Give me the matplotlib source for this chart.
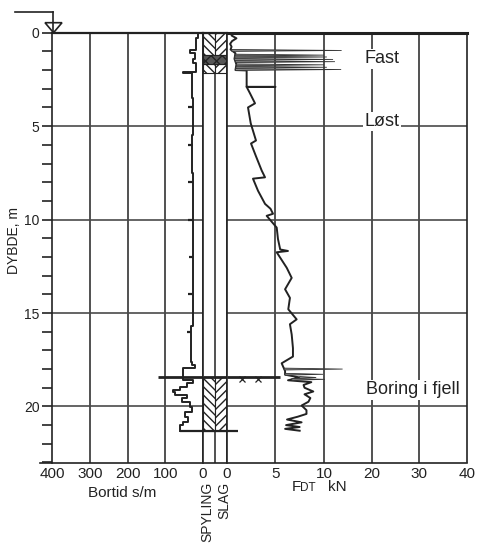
import matplotlib
matplotlib.use('Agg')
import matplotlib.pyplot as plt
import numpy as np
from matplotlib.patches import Rectangle, Polygon
from matplotlib.lines import Line2D

plt.rcParams['font.family'] = ['Liberation Sans', 'DejaVu Sans']

INK = '#222222'
GRID = '#4a4a4a'

# bortid (s/m) against depth (m)
bortid_depth = [0, 0, 0.3, 0.9, 1.1, 1.4, 1.6, 2.1, 2.17, 3.5, 5.5, 7.5, 9.5, 11.5,
                13.5, 15.7, 17.6, 17.77, 17.96, 18.56, 18.76, 18.94, 19.1, 19.25,
                19.4, 19.57, 19.75, 20.02, 20.29, 20.55, 20.82, 20.98, 21.18, 21.3]
bortid_value = [45, 12, 18, 35, 20, 26, 18, 52, 28, 27, 28, 27, 27, 26,
                27, 32, 30, 21, 52, 26, 43, 60, 79, 74,
                43, 56, 34, 30, 48, 39, 52, 61, 61, 61]
bortid_marks = [4, 6, 8, 10, 12, 14, 16]

# FDT (kN) against depth (m)
fdt_depth = [0.0, 0.15, 0.3, 0.45, 0.6, 0.75, 0.9, 1.1, 1.4, 1.7, 2.0, 2.02, 2.9, 2.9, 2.9,
             3.24, 3.78, 4.0, 4.85, 5.77, 5.93, 6.6, 7.38, 7.74, 7.81, 8.46, 9.16, 9.42,
             9.69, 9.8, 10.43, 11.04, 11.6, 11.68, 11.75, 12.58, 13.12, 13.73, 14.19, 14.8,
             15.34, 15.6, 16.15, 16.88, 17.33, 17.69, 17.87, 18.1, 18.3, 18.45, 18.6, 18.7,
             18.85, 19.0, 19.2, 19.35, 19.55, 19.75, 19.95, 20.2, 20.4, 20.55, 20.7, 20.85,
             21.0, 21.1, 21.2, 21.3]
fdt_value = [0.6, 0.5, 1.0, 0.55, 0.35, 0.5, 0.4, 0.9, 0.8, 1.0, 0.9, 2.05, 2.05, 5.0, 2.05,
             2.39, 2.91, 2.19, 2.47, 3.01, 2.5, 3.0, 3.6, 3.94, 2.7, 3.22, 3.94, 4.5,
             4.76, 4.11, 5.14, 5.27, 5.5, 6.3, 5.14, 6.17, 6.68, 6.0, 6.5, 6.33,
             7.19, 6.5, 6.68, 6.81, 6.81, 5.65, 5.8, 6.0, 6.0, 7.5, 6.3, 8.7,
             7.9, 8.0, 8.9, 8.0, 8.6, 8.4, 7.7, 8.2, 8.2, 7.3, 6.2, 7.7,
             6.1, 7.5, 6.0, 7.5]
spike_depth = [0.95, 1.2, 1.3, 1.43, 1.55, 1.72, 1.85, 1.97, 18.0, 18.28, 18.45, 18.55]
spike_fdt = [13.7, 10.0, 10.6, 11.9, 12.3, 10.0, 10.6, 13.6, 13.9, 9.9, 9.2, 10.2]

hatch_blocks = [(0.0, 1.17), (1.7, 2.15), (18.4, 21.3)]
dark_band = (1.17, 1.7)
rock_depth = 18.4
end_depth = 21.3
cross_depth = 18.55
cross_fdt = [1.6, 3.2]

bortid_ticks = [400, 300, 200, 100, 0]
fdt_ticks = [0, 5, 10, 20, 30, 40]
depth_major = [0, 5, 10, 15, 20]
depth_minor = list(range(0, 24))

W, H = 479, 544
fig = plt.figure(figsize=(W / 100, H / 100), dpi=100)
fig.patch.set_facecolor('white')


def fx(px):
    return px / W


def fy(py):
    return 1 - py / H


top, bot = 32.7, 462.5
x0, x1, x2, x3 = 52, 203, 226.7, 467
ax1 = fig.add_axes([fx(x0), fy(bot), (x1 - x0) / W, (bot - top) / H])
ax2 = fig.add_axes([fx(x1), fy(bot), (x2 - x1) / W, (bot - top) / H])
ax3 = fig.add_axes([fx(x2), fy(bot), (x3 - x2) / W, (bot - top) / H])


def fwd(x):
    x = np.asarray(x, dtype=float)
    return np.where(x <= 10, x, 10 + (x - 10) * 0.49)


def inv(y):
    y = np.asarray(y, dtype=float)
    return np.where(y <= 10, y, 10 + (y - 10) / 0.49)


for ax in (ax1, ax2, ax3):
    ax.set_ylim(23, 0)
    for s in ax.spines.values():
        s.set_color(INK)
        s.set_linewidth(1.2)
    ax.spines['top'].set_linewidth(1.6)

ax1.set_xlim(400, 0)
ax2.set_xlim(0, 2)
ax3.set_xscale('function', functions=(fwd, inv))
ax3.set_xlim(0, 40)
ax3.spines['top'].set_linewidth(2.2)

# grid
for v in bortid_ticks[1:-1]:
    ax1.axvline(v, color=INK, lw=1.1, zorder=1)
for v in fdt_ticks[1:-1]:
    ax3.axvline(v, color=INK, lw=1.1, zorder=1)
for d in depth_major[1:]:
    ax1.axhline(d, color=GRID, lw=1.2, zorder=1)
    ax3.axhline(d, color=GRID, lw=1.2, zorder=1)

# bortid curve
ax1.plot(bortid_value, bortid_depth, color=INK, lw=1.4, drawstyle='steps-pre', zorder=3)
mark_x = np.interp(bortid_marks, bortid_depth[1:], bortid_value[1:])
ax1.hlines(bortid_marks, mark_x, mark_x + 12, color=INK, lw=1.6, zorder=3)
ax1.hlines([rock_depth], 0, 119, color=INK, lw=2.0, zorder=3)
ax1.hlines([end_depth], 0, 61, color=INK, lw=1.6, zorder=3)

# spyling / slag column
ax2.axvline(1, color=INK, lw=1.1)
for d0, d1 in hatch_blocks:
    ax2.add_patch(Rectangle((0, d0), 1, d1 - d0, facecolor='white', edgecolor=INK,
                            hatch='\\\\\\\\', lw=0.8, zorder=2))
    ax2.add_patch(Rectangle((1, d0), 1, d1 - d0, facecolor='white', edgecolor=INK,
                            hatch='////', lw=0.8, zorder=2))
ax2.add_patch(Rectangle((0, dark_band[0]), 2, dark_band[1] - dark_band[0],
                        facecolor='#555555', edgecolor=INK, hatch='xxx', lw=0.8, zorder=2))
ax2.hlines([rock_depth], 0, 2, color=INK, lw=2.0, zorder=3)
ax2.hlines([end_depth], 0, 2, color=INK, lw=1.6, zorder=3)

# FDT curve
ax3.plot(fdt_value, fdt_depth, color=INK, lw=1.4, zorder=3)
base = np.interp(spike_depth, fdt_depth, fdt_value)
for d, b, p in zip(spike_depth, base, spike_fdt):
    ax3.add_patch(Polygon([(b, d - 0.05), (p, d), (b, d + 0.05)], closed=True,
                          facecolor='#8a8a8a', edgecolor='#333333', lw=0.6, zorder=3))
ax3.hlines([rock_depth], 0, 5.5, color=INK, lw=2.0, zorder=3)
ax3.hlines([end_depth], 0, 1.2, color=INK, lw=1.6, zorder=3)
ax3.plot(cross_fdt, [cross_depth] * len(cross_fdt), 'x', color=INK, ms=4, mew=0.9, zorder=3)

box = dict(facecolor='white', edgecolor='none', pad=1)
ax3.text(22.2, 1.4, 'Fast', ha='center', va='center', fontsize=13, color=INK, bbox=box, zorder=4)
ax3.text(22.2, 4.75, 'Løst', ha='center', va='center', fontsize=13, color=INK, bbox=box, zorder=4)
ax3.text(28.7, 19.1, 'Boring i fjell', ha='center', va='center', fontsize=13, color=INK,
         bbox=box, zorder=4)

# ticks
ax1.set_yticks(depth_major)
ax1.set_yticks(depth_minor, minor=True)
ax1.tick_params(axis='y', which='both', direction='out', length=7, width=1.2,
                colors=INK, labelsize=10, pad=2)
ax1.set_xticks(bortid_ticks)
ax1.tick_params(axis='x', length=0, pad=3, labelsize=11, colors=INK)
ax2.set_xticks([])
ax2.set_yticks([])
ax3.set_yticks([])
ax3.set_xticks(fdt_ticks)
ax3.set_xticklabels([str(t) for t in fdt_ticks])
ax3.tick_params(axis='x', which='both', length=0, pad=3, labelsize=11, colors=INK)
ax3.xaxis.set_minor_locator(matplotlib.ticker.NullLocator())

# labels
fig.text(fx(14), fy(241), 'DYBDE, m', rotation=90, ha='center', va='center',
         fontsize=10, color=INK)
fig.text(fx(122), fy(497), 'Bortid s/m', ha='center', va='baseline', fontsize=11, color=INK)
fig.text(fx(292), fy(491), 'F', ha='left', va='baseline', fontsize=11, color=INK)
fig.text(fx(300), fy(491), 'DT', ha='left', va='baseline', fontsize=8.5, color=INK)
fig.text(fx(328), fy(491), 'kN', ha='left', va='baseline', fontsize=11, color=INK)
fig.text(fx(207), fy(481.5), 'SPYLING', rotation=90, ha='center', va='top', fontsize=10,
         color=INK)
fig.text(fx(224), fy(481.5), 'SLAG', rotation=90, ha='center', va='top', fontsize=10,
         color=INK)

# water level symbol and extended base line
fig.add_artist(Line2D([fx(15), fx(53)], [fy(11.7), fy(11.7)], color=INK, lw=1.2))
fig.add_artist(Line2D([fx(53), fx(53)], [fy(11.7), fy(top)], color=INK, lw=1.2))
fig.add_artist(Polygon([(fx(45), fy(22.7)), (fx(62), fy(22.7)), (fx(53.5), fy(top))],
                       closed=True, facecolor='white', edgecolor=INK, lw=1.2))
fig.add_artist(Line2D([fx(40), fx(x0)], [fy(bot), fy(bot)], color=INK, lw=1.2))

fig.savefig('out.png', dpi=100)
